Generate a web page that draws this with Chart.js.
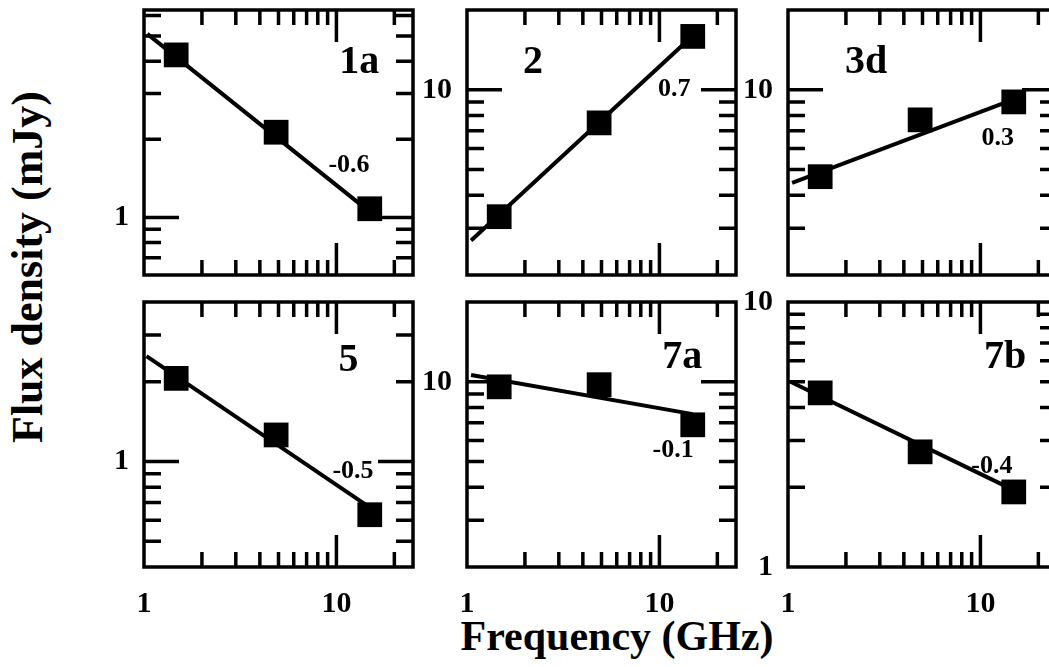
<!DOCTYPE html>
<html><head><meta charset="utf-8">
<script src="https://cdn.jsdelivr.net/npm/chart.js@4.4.1/dist/chart.umd.min.js"></script>
<style>
html,body{margin:0;padding:0;background:#fff;}
#wrap{position:relative;width:1049px;height:667px;overflow:hidden;background:#fff;}
#wrap canvas{position:absolute;}
.ttl{position:absolute;font-family:'Liberation Serif',serif;font-weight:bold;color:#000;white-space:nowrap;line-height:1;}
</style></head><body>
<div id="wrap">
  <div class="ttl" id="xt" style="font-size:42px;left:617px;top:636px;transform:translate(-50%,-50%);">Frequency (GHz)</div>
  <div class="ttl" id="yt" style="font-size:44px;left:28px;top:267px;transform:translate(-50%,-50%) rotate(-90deg);">Flux density (mJy)</div>
</div>
<script>
// ---- data ----
const freqs = [1.47, 4.86, 14.9];            // GHz
const panelNames = ['1a', '2', '3d', '5', '7a', '7b'];
const flux1a = [4.23, 2.13, 1.08];
const flux2  = [3.32, 7.5, 15.9];
const flux3d = [4.7, 7.7, 9.0];
const flux5  = [2.06, 1.26, 0.63];
const flux7a = [9.57, 9.75, 6.88];
const flux7b = [4.54, 2.72, 1.92];
const fluxes = [flux1a, flux2, flux3d, flux5, flux7a, flux7b];
// fitted power-law lines: [start freq, end freq] and [start flux, end flux]
const fitFreq  = [[1.04, 14.9], [1.05, 14.9], [1.05, 14.9], [1.03, 14.5], [1.05, 14.9], [1.03, 14.9]];
const fitFlux  = [[5.1, 1.05], [2.7, 16.0], [4.45, 9.2], [2.5, 0.68], [10.6, 7.55], [5.0, 1.95]];
const slopeLabels = ['-0.6', '0.7', '0.3', '-0.5', '-0.1', '-0.4'];
const yMinVals = [0.63, 2, 2, 0.4, 2, 1];
const yMaxVals = [6.3, 20, 20, 4, 20, 10];
const yTickLabels = [[1], [10], [10], [1], [10], [1, 10]];
const xMin = 1, xMax = 25;
const xTickLabels = [1, 10];

// ---- layout (pixels) ----
const colLeft = [144, 467, 788];
const rowTop = [10, 302];
const PW = 269, PH = 265;
const PADL = 80, PADT = 20, PADR = 20, PADB = 50;
const FONT = 'Liberation Serif';
// label anchors as fractions of the plot area
const nameAnchor  = [[0.80, 0.20], [0.245, 0.20], [0.29, 0.20], [0.76, 0.22], [0.80, 0.21], [0.807, 0.21]];
const slopeAnchor = [[0.762, 0.585], [0.77, 0.30], [0.78, 0.483], [0.777, 0.638], [0.766, 0.558], [0.758, 0.619]];

function minorTicks(min, max) {
  const out = [];
  for (let k = Math.floor(Math.log10(min)) - 1; k <= Math.ceil(Math.log10(max)) + 1; k++) {
    for (let n = 1; n <= 9; n++) {
      const v = n * Math.pow(10, k);
      if (v > min * 1.002 && v < max * 0.998) out.push({ v, major: n === 1 });
    }
  }
  return out;
}

const framePlugin = {
  id: 'frame',
  afterDatasetsDraw(chart, args, opts) {
    const { ctx, chartArea: a, scales } = chart;
    const i = opts.idx;
    ctx.save();
    ctx.strokeStyle = '#000';
    ctx.lineCap = 'butt';
    ctx.lineWidth = 3.5;
    for (const t of minorTicks(xMin, xMax)) {
      const px = scales.x.getPixelForValue(t.v);
      const len = t.major ? 32 : 15;
      ctx.beginPath();
      ctx.moveTo(px, a.top); ctx.lineTo(px, a.top + len);
      ctx.moveTo(px, a.bottom); ctx.lineTo(px, a.bottom - len);
      ctx.stroke();
    }
    for (const t of minorTicks(yMinVals[i], yMaxVals[i])) {
      const py = scales.y.getPixelForValue(t.v);
      const len = t.major ? 35 : 17;
      ctx.beginPath();
      ctx.moveTo(a.left, py); ctx.lineTo(a.left + len, py);
      ctx.moveTo(a.right, py); ctx.lineTo(a.right - len, py);
      ctx.stroke();
    }
    ctx.strokeRect(a.left, a.top, a.right - a.left, a.bottom - a.top);
    ctx.fillStyle = '#000';
    ctx.textAlign = 'center';
    ctx.textBaseline = 'middle';
    const w = a.right - a.left, h = a.bottom - a.top;
    ctx.font = 'bold 40px "' + FONT + '"';
    ctx.fillText(panelNames[i], a.left + nameAnchor[i][0] * w, a.top + nameAnchor[i][1] * h);
    ctx.font = 'bold 26px "' + FONT + '"';
    ctx.fillText(slopeLabels[i], a.left + slopeAnchor[i][0] * w, a.top + slopeAnchor[i][1] * h);
    ctx.restore();
  }
};

const wrap = document.getElementById('wrap');
for (let i = 0; i < 6; i++) {
  const col = i % 3, row = Math.floor(i / 3);
  const L = colLeft[col], T = rowTop[row];
  const cv = document.createElement('canvas');
  const cw = PADL + PW + PADR, ch = PADT + PH + PADB;
  cv.width = cw; cv.height = ch;
  cv.style.width = cw + 'px'; cv.style.height = ch + 'px';
  cv.style.left = (L - PADL) + 'px'; cv.style.top = (T - PADT) + 'px';
  wrap.appendChild(cv);
  const bottomRow = row === 1;
  new Chart(cv, {
    type: 'scatter',
    data: {
      datasets: [
        {
          data: freqs.map((f, j) => ({ x: f, y: fluxes[i][j] })),
          pointStyle: 'rect', pointRadius: 17.5, pointHoverRadius: 17.5,
          backgroundColor: '#000', borderColor: '#000', borderWidth: 0, showLine: false
        },
        {
          data: fitFreq[i].map((f, j) => ({ x: f, y: fitFlux[i][j] })),
          showLine: true, pointRadius: 0, borderColor: '#000', borderWidth: 4, fill: false
        }
      ]
    },
    options: {
      responsive: false, animation: false, events: [],
      layout: { padding: { left: 0, top: PADT, right: PADR, bottom: 0 } },
      plugins: { legend: { display: false }, tooltip: { enabled: false }, frame: { idx: i } },
      scales: {
        x: {
          type: 'logarithmic', min: xMin, max: xMax, position: 'bottom',
          grid: { display: false, drawTicks: false }, border: { display: false },
          afterBuildTicks: s => { s.ticks = xTickLabels.map(v => ({ value: v })); },
          afterFit: s => { s.height = PADB; s.paddingLeft = 0; s.paddingRight = 0; },
          ticks: {
            display: bottomRow, autoSkip: false, maxRotation: 0, padding: 19,
            color: '#000', font: { family: FONT, size: 30, weight: 'bold' },
            callback: v => String(v)
          }
        },
        y: {
          type: 'logarithmic', min: yMinVals[i], max: yMaxVals[i], position: 'left',
          grid: { display: false, drawTicks: false }, border: { display: false },
          afterBuildTicks: s => { s.ticks = yTickLabels[i].map(v => ({ value: v })); },
          afterFit: s => { s.width = PADL; s.paddingTop = 0; s.paddingBottom = 0; },
          ticks: {
            autoSkip: false, padding: 15, color: '#000',
            font: { family: FONT, size: 30, weight: 'bold' },
            callback: v => String(v)
          }
        }
      }
    },
    plugins: [framePlugin]
  });
}
</script>
</body></html>
